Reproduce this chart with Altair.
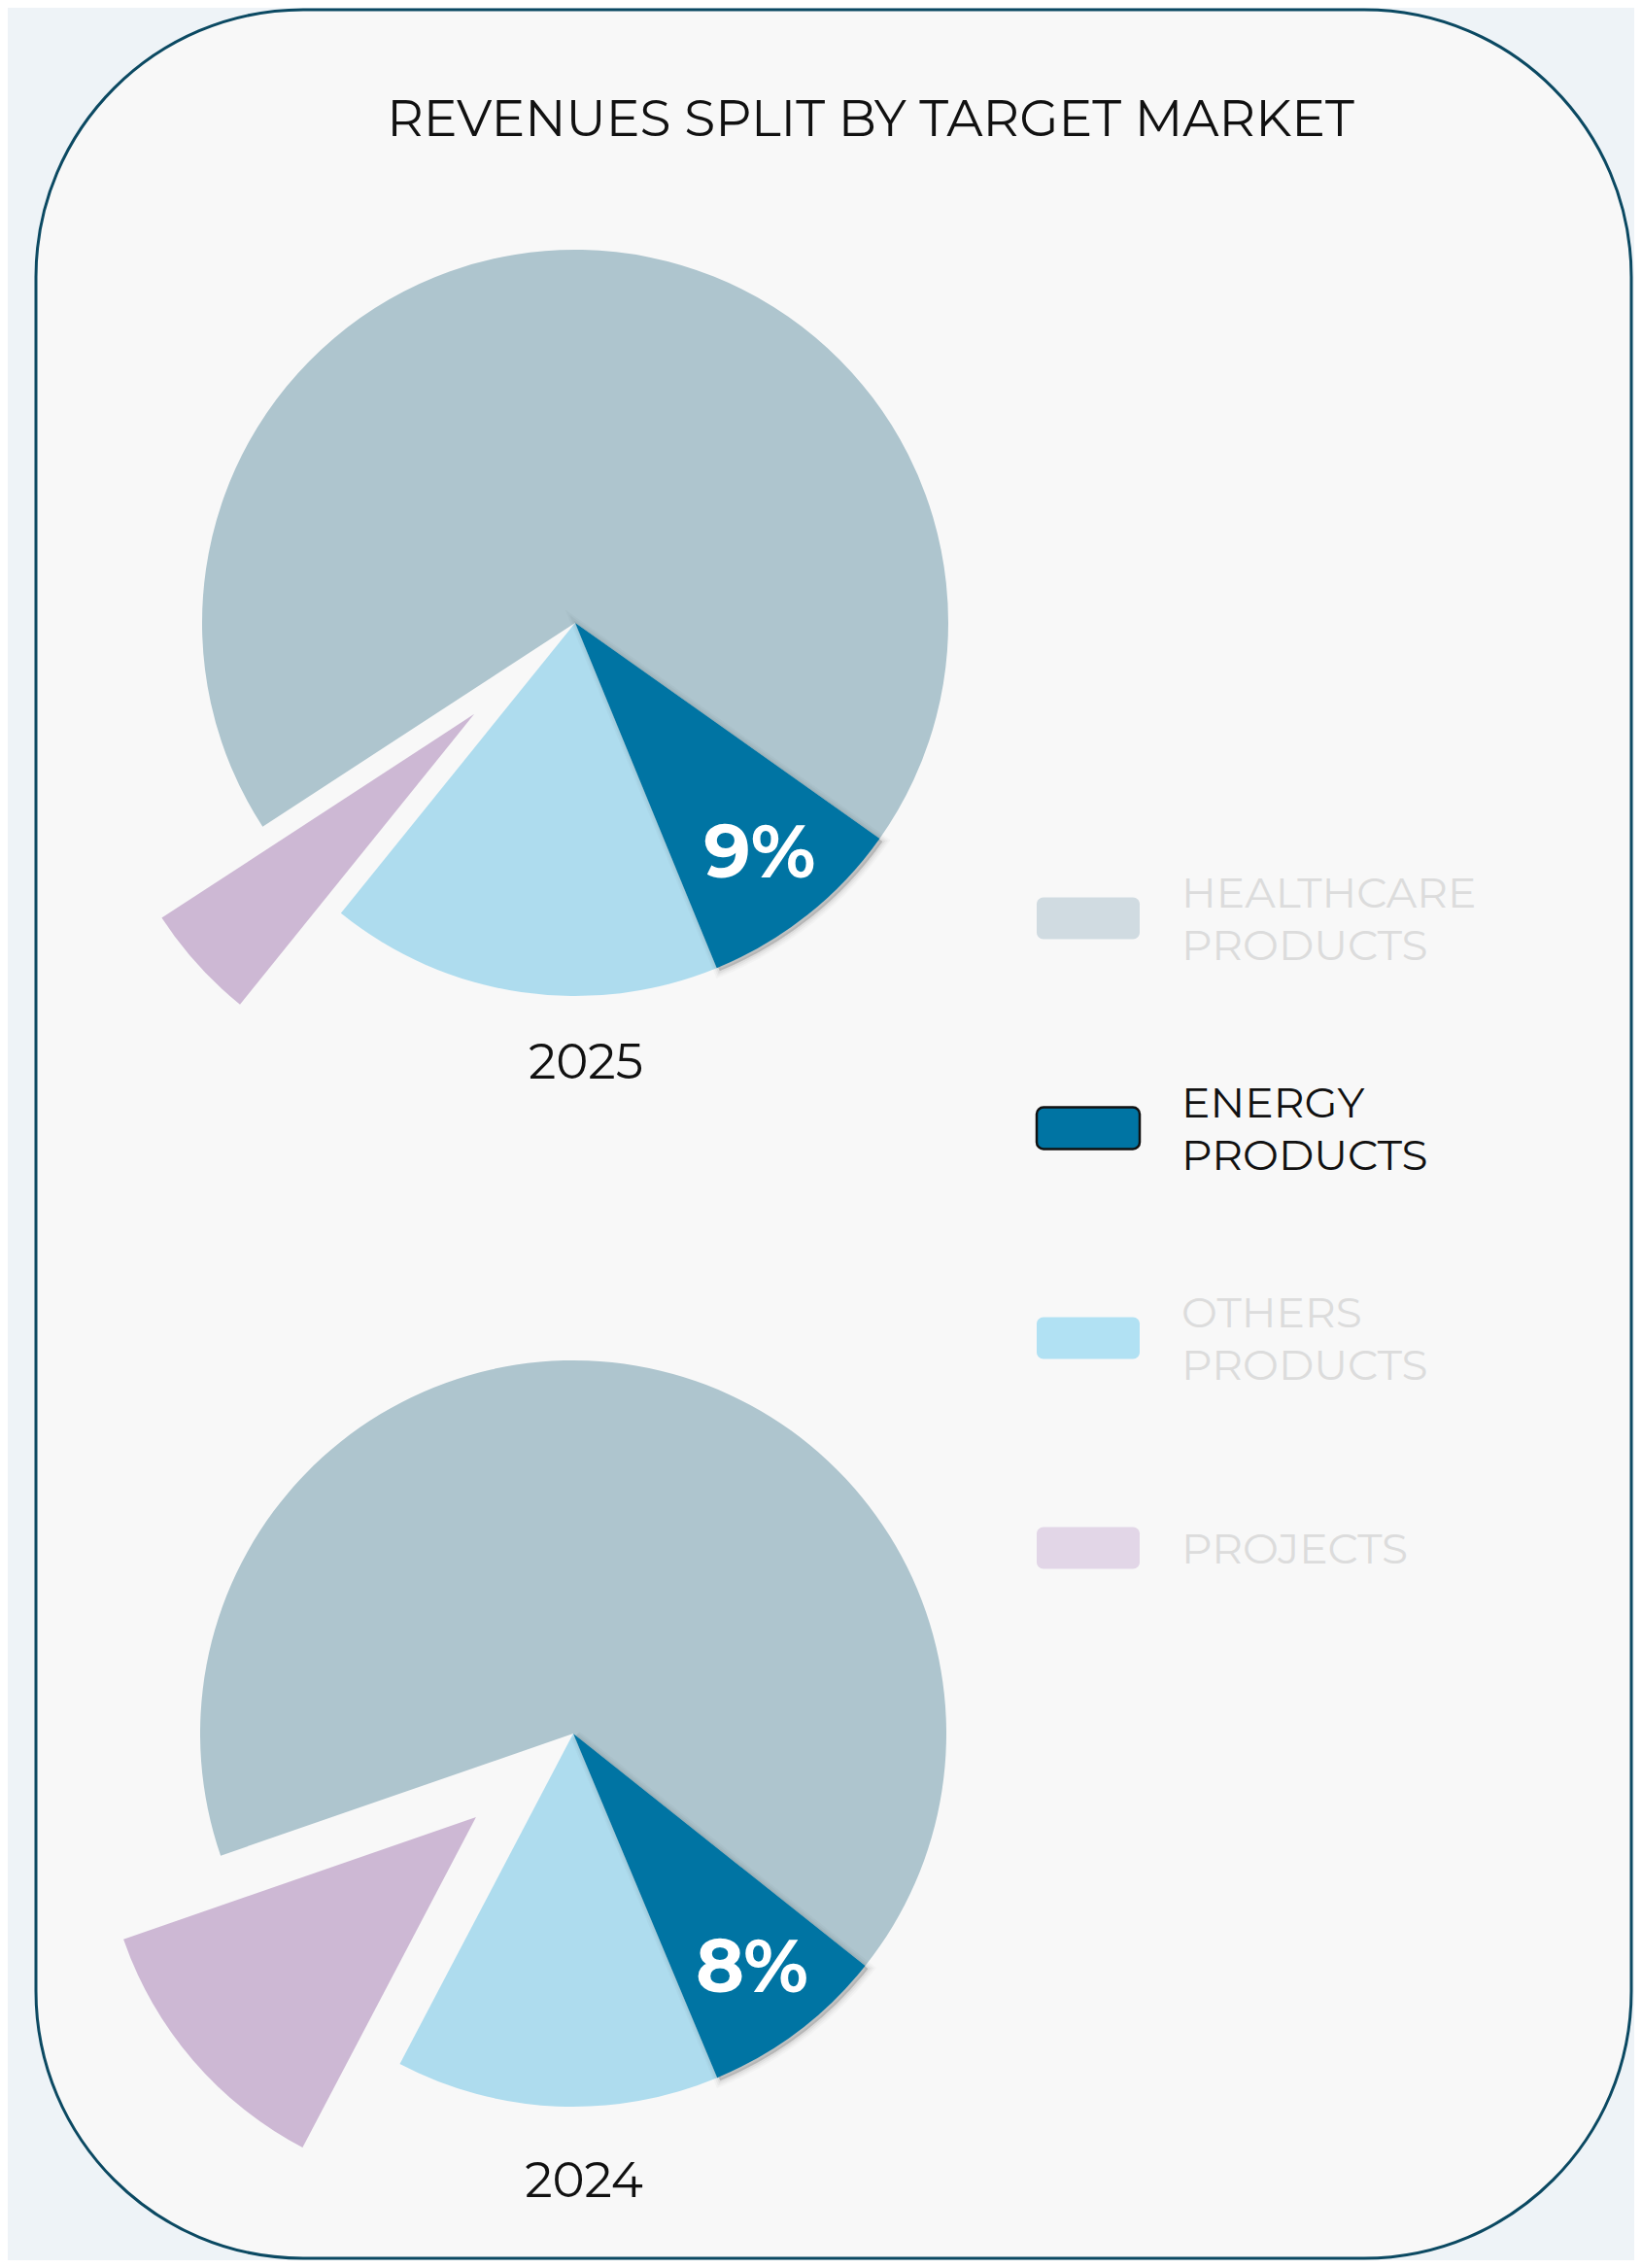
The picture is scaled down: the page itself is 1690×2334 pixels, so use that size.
import altair as alt
import pandas as pd

# ---------------- data ----------------
TITLE = "REVENUES SPLIT BY TARGET MARKET"
# clockwise order of slices, starting at the rotation angle
CATEGORIES = ["Energy Products", "Others Products", "Projects", "Healthcare Products"]
YEARS = ["2025", "2024"]
VALUES_2025 = [9, 17, 5, 69]
VALUES_2024 = [8, 14, 12, 66]
LEGEND_ORDER = ["Healthcare Products", "Energy Products", "Others Products", "Projects"]
LEGEND_LABELS = ["HEALTHCARE\nPRODUCTS", "ENERGY\nPRODUCTS", "OTHERS\nPRODUCTS", "PROJECTS"]
HIGHLIGHT = "Energy Products"
EXPLODED = "Projects"

# ---------------- styles / layout ----------------
PIE_COLORS = ["#0074a3", "#aedcee", "#cdb8d4", "#aec5ce"]
SWATCH_COLORS = ["#d0dbe1", "#0074a3", "#b1e1f3", "#e2d6e7"]
FONT = "Montserrat, Inter, 'Open Sans', sans-serif"
R = 384
PIE_LAYOUT = {
    "2025": dict(cx=584, cy=633, rot=125.3, explode=140, label_dy=469),
    "2024": dict(cx=582, cy=1776, rot=128.5, explode=132, label_dy=477),
}
color_scale = alt.Scale(domain=CATEGORIES, range=PIE_COLORS)


def pie(year, values):
    L = PIE_LAYOUT[year]
    cx, cy = L["cx"], L["cy"]
    rot = L["rot"] * 3.141592653589793 / 180
    df = pd.DataFrame({"category": CATEGORIES, "value": values,
                       "order": list(range(len(CATEGORIES)))})
    base = (
        alt.Chart(df)
        .transform_stack(stack="value", groupby=[], as_=["v0", "v1"],
                         offset="normalize", sort=[alt.SortField("order", "ascending")])
        .transform_calculate(t0=f"{rot} + datum.v0*2*PI", t1=f"{rot} + datum.v1*2*PI")
        .transform_calculate(tm="(datum.t0 + datum.t1)/2")
    )
    th = alt.Theta("t0:Q", scale=None, stack=None)
    th2 = alt.Theta2("t1:Q")
    col = alt.Color("category:N", scale=color_scale, legend=None)

    main = base.transform_filter(
        (alt.datum.category != EXPLODED) & (alt.datum.category != HIGHLIGHT)
    ).mark_arc(outerRadius=R).encode(theta=th, theta2=th2, color=col,
                                     x=alt.value(cx), y=alt.value(cy))
    hl = base.transform_filter(alt.datum.category == HIGHLIGHT)
    shadows = []
    for w, o in [(12, 0.025), (8, 0.035), (4, 0.05)]:
        shadows.append(
            hl.mark_arc(outerRadius=R, fill="#000000", fillOpacity=0.06,
                        stroke="#000000", strokeWidth=w, strokeOpacity=o)
            .encode(theta=th, theta2=th2, x=alt.value(cx + 3), y=alt.value(cy + 3))
        )
    energy = hl.mark_arc(outerRadius=R).encode(theta=th, theta2=th2, color=col,
                                               x=alt.value(cx), y=alt.value(cy))
    exploded = (
        base.transform_filter(alt.datum.category == EXPLODED)
        .transform_calculate(px=f"{cx} + {L['explode']}*sin(datum.tm)",
                             py=f"{cy} - {L['explode']}*cos(datum.tm)")
        .mark_arc(outerRadius=R)
        .encode(theta=th, theta2=th2, color=col,
                x=alt.X("px:Q", scale=None, axis=None),
                y=alt.Y("py:Q", scale=None, axis=None))
    )
    label = (
        hl.transform_calculate(label="datum.value + '%'")
        .mark_text(radius=305, font=FONT, fontSize=76, fontWeight="bold",
                   color="#ffffff", align="center", baseline="middle")
        .encode(theta=alt.Theta("tm:Q", scale=None, stack=None), text="label:N",
                x=alt.value(cx), y=alt.value(cy))
    )
    year_lbl = (
        alt.Chart(pd.DataFrame({"year": [year]}))
        .mark_text(font=FONT, fontSize=50, color="#111111", align="center",
                   baseline="alphabetic")
        .encode(text="year:N", x=alt.value(cx + 11), y=alt.value(cy + L["label_dy"]))
    )
    return alt.layer(main, *shadows, energy, exploded, label, year_lbl)


card = alt.Chart(pd.DataFrame({"k": [0]})).mark_rect(
    cornerRadius=275, fill="#f8f8f8", stroke="#0b4962", strokeWidth=3
).encode(x=alt.value(29), x2=alt.value(1671), y=alt.value(2), y2=alt.value(2316))

title = alt.Chart(pd.DataFrame({"t": [TITLE]})).mark_text(
    font=FONT, fontSize=52, color="#111111", align="center", baseline="alphabetic"
).encode(text="t:N", x=alt.value(888), y=alt.value(132))

leg_df = pd.DataFrame({"category": LEGEND_ORDER, "label": LEGEND_LABELS})
LEG_Y0, LEG_STEP = 937, 216
LEG_FS, LEG_LH = 44, 54
leg_base = (
    alt.Chart(leg_df)
    .transform_window(idx="row_number()")
    .transform_calculate(yc=f"{LEG_Y0} + (datum.idx - 1)*{LEG_STEP}")
    .transform_calculate(
        top="datum.yc - 21.5", bot="datum.yc + 21.5",
        ty=f"datum.yc + {LEG_FS * 0.36} - (length(split(datum.label, '\\n')) - 1)*{LEG_LH / 2}",
    )
)
is_hl = alt.datum.category == HIGHLIGHT
swatches = leg_base.mark_rect(cornerRadius=7).encode(
    x=alt.value(1059), x2=alt.value(1165),
    y=alt.Y("top:Q", scale=None, axis=None), y2=alt.Y2("bot:Q"),
    fill=alt.Fill("category:N", scale=alt.Scale(domain=LEGEND_ORDER, range=SWATCH_COLORS),
                  legend=None),
    stroke=alt.condition(is_hl, alt.value("#111111"), alt.value("transparent")),
    strokeWidth=alt.condition(is_hl, alt.value(2.5), alt.value(0)),
)
leg_text = leg_base.mark_text(
    font=FONT, fontSize=LEG_FS, align="left", baseline="alphabetic", lineBreak="\n",
    lineHeight=LEG_LH,
).encode(
    x=alt.value(1208), y=alt.Y("ty:Q", scale=None, axis=None), text="label:N",
    color=alt.condition(is_hl, alt.value("#111111"), alt.value("#dcdcdc")),
)

chart = alt.layer(
    card, title,
    pie("2025", VALUES_2025),
    pie("2024", VALUES_2024),
    swatches, leg_text,
).properties(
    width=1674, height=2318, background="#eef3f7", padding=0,
    autosize=alt.AutoSizeParams(type="none"),
).configure_view(stroke=None)

chart.save("out.html", embed_options={"renderer": "svg", "actions": False})
